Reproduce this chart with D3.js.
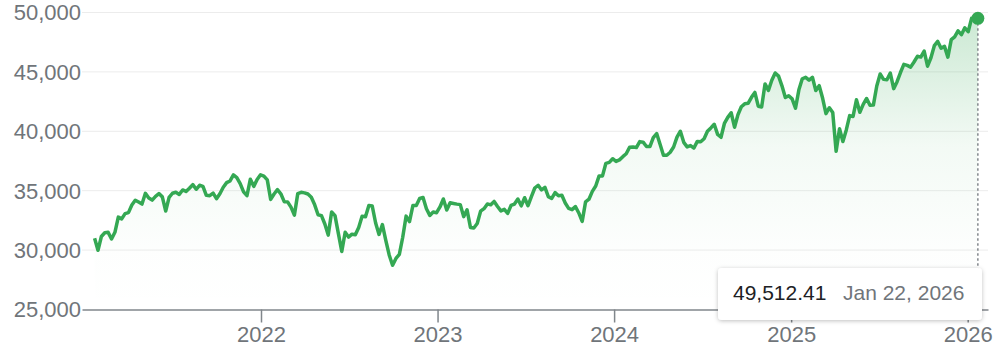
<!DOCTYPE html>
<html lang="en">
<head>
<meta charset="UTF-8">
<title>Dow Jones 5Y</title>
<script src="https://d3js.org/d3.v7.min.js"></script>
<style>
  body { margin: 0; background: #fff; font-family: Arial, "Liberation Sans", sans-serif; }
  svg { display: block; }
  .ylab, .xlab { fill: #70757a; font-size: 22px; }
</style>
</head>
<body>
<svg width="1000" height="351"></svg>
<script>
// weekly closes, first week ending 2021-01-22
const firstWeek = "2021-01-22";
const closes2021 = [30997, 29982, 31148, 31458, 31494, 30932, 31496, 32779, 32628, 33073,
  33153, 33801, 34200, 34043, 33875, 34778, 34382, 34208, 34529, 34756, 34480, 33290, 34433,
  34786, 34870, 34688, 35062, 34935, 35208, 35515, 35120, 35455, 35369, 34608, 34584, 34798,
  34326, 34746, 35295, 35677, 35820, 36328, 36100, 35602, 34899, 34580, 35971, 35365, 35950, 36338];
const closes2022 = [36231, 35912, 34265, 34725, 35089, 34738, 34079, 34059, 33614, 32945,
  34754, 34861, 34818, 34721, 34451, 33811, 32977, 32899, 32197, 31262, 33213, 32900, 31393,
  29888, 31501, 31097, 31338, 31288, 31899, 32845, 32803, 33761, 33707, 32283, 31318, 32151,
  30822, 29590, 28726, 29297, 29635, 31082, 32861, 32403, 33748, 33746, 34347, 34430, 33476,
  32920, 33203, 33147];
const closes2023 = [33631, 34303, 33375, 33978, 33926, 33870, 33827, 32817, 33391, 31910,
  31862, 32238, 33274, 33485, 33886, 33809, 34098, 33674, 33300, 33427, 33093, 33762, 33877,
  34299, 33727, 34408, 33734, 34509, 35228, 35459, 35066, 35281, 34500, 34346, 34838, 34577,
  34618, 33964, 33507, 33407, 33670, 33127, 32418, 34061, 34283, 34947, 35390, 36245, 36247,
  37305, 37385, 37690];
const closes2024 = [37466, 37593, 37863, 38109, 38654, 38671, 38628, 39131, 39087, 38722,
  38715, 39475, 39807, 38904, 37983, 37986, 38240, 38676, 39513, 40004, 39070, 38686, 38799,
  38589, 39150, 39119, 39376, 40001, 40287, 40589, 39737, 39497, 40659, 41175, 41563, 40345,
  41394, 42063, 42313, 42353, 42864, 43276, 42114, 42052, 43989, 43445, 44297, 44911, 44643,
  43828, 42840, 42992];
const closes2025 = [42732, 41938, 43488, 44424, 44545, 44303, 44546, 43428, 43841, 42801,
  41488, 41985, 41583, 38315, 40212, 39142, 40114, 41317, 41249, 42655, 41603, 42270, 42763,
  42197, 42207, 43819, 44828, 44371, 44342, 44902, 43589, 44176, 44946, 45631, 45545, 45401,
  45834, 46315, 46247, 46758, 45479, 46191, 47207, 47563, 46987, 47147, 46245, 47716, 47955,
  48458, 48135, 48711];
const closes2026 = [48382, 49504, 49359];
const lastDate = "2026-01-22";
const lastValue = 49512.41;

const yTicks = [25000, 30000, 35000, 40000, 45000, 50000];
const xTickYears = [2022, 2023, 2024, 2025, 2026];

const parse = d3.timeParse("%Y-%m-%d");
const weekly = [].concat(closes2021, closes2022, closes2023, closes2024, closes2025, closes2026);
const data = weekly.map((v, i) => ({ date: d3.timeDay.offset(parse(firstWeek), i * 7), value: v }));
data.push({ date: parse(lastDate), value: lastValue });

const svg = d3.select("svg");
const plotLeft = 82, plotRight = 988, plotTop = 12.5, plotBottom = 309.5;

// x: year ticks placed where the reference has them
const x = d3.scaleTime()
  .domain([new Date(2022, 0, 1), new Date(2026, 0, 1)])
  .range([261, 967.7]);
x.domain([x.invert(plotLeft), x.invert(plotRight)]).range([plotLeft, plotRight]);

const y = d3.scaleLinear().domain([25000, 50000]).range([plotBottom, plotTop]);

// gradient fill
const defs = svg.append("defs");
const grad = defs.append("linearGradient")
  .attr("id", "fill").attr("gradientUnits", "userSpaceOnUse")
  .attr("x1", 0).attr("x2", 0).attr("y1", plotTop).attr("y2", plotBottom);
grad.append("stop").attr("offset", 0).attr("stop-color", "#34a853").attr("stop-opacity", 0.26);
grad.append("stop").attr("offset", 0.45).attr("stop-color", "#34a853").attr("stop-opacity", 0.06);
grad.append("stop").attr("offset", 0.8).attr("stop-color", "#34a853").attr("stop-opacity", 0.01);
grad.append("stop").attr("offset", 1).attr("stop-color", "#34a853").attr("stop-opacity", 0);

const shadow = defs.append("filter").attr("id", "shadow")
  .attr("x", "-10%").attr("y", "-30%").attr("width", "120%").attr("height", "170%");
shadow.append("feDropShadow").attr("dx", 0).attr("dy", 1).attr("stdDeviation", 2)
  .attr("flood-color", "#000").attr("flood-opacity", 0.25);

// gridlines + y labels
svg.append("g").selectAll("line")
  .data(yTicks.filter(t => t > 25000))
  .join("line")
  .attr("x1", plotLeft).attr("x2", plotRight)
  .attr("y1", d => y(d)).attr("y2", d => y(d))
  .attr("stroke", "#ececec").attr("stroke-width", 1);

svg.append("g").selectAll("text")
  .data(yTicks)
  .join("text")
  .attr("class", "ylab")
  .attr("x", plotLeft - 1)
  .attr("y", d => y(d))
  .attr("dy", "0.36em")
  .attr("text-anchor", "end")
  .text(d => d3.format(",")(d));

// area
svg.append("path")
  .datum(data)
  .attr("fill", "url(#fill)")
  .attr("d", d3.area().x(d => x(d.date)).y0(plotBottom).y1(d => y(d.value)));

// x axis
const xAxis = svg.append("g")
  .attr("transform", `translate(0,${plotBottom})`)
  .call(d3.axisBottom(x)
    .tickValues(xTickYears.map(yr => new Date(yr, 0, 1)))
    .tickFormat(d3.timeFormat("%Y"))
    .tickSizeOuter(0).tickSizeInner(13).tickPadding(4));
xAxis.attr("font-family", null).attr("font-size", null);
xAxis.select(".domain").attr("stroke", "#80868b").attr("stroke-width", 1.5);
xAxis.selectAll(".tick line").attr("stroke", "#80868b").attr("stroke-width", 1.5);
xAxis.selectAll(".tick text").attr("class", "xlab").attr("fill", null);

// line
svg.append("path")
  .datum(data)
  .attr("fill", "none")
  .attr("stroke", "#34a853")
  .attr("stroke-width", 3.5)
  .attr("stroke-linejoin", "round")
  .attr("d", d3.line().x(d => x(d.date)).y(d => y(d.value)));

// hover marker
const last = data[data.length - 1];
svg.append("line")
  .attr("x1", x(last.date)).attr("x2", x(last.date))
  .attr("y1", y(last.value)).attr("y2", plotBottom)
  .attr("stroke", "#80868b").attr("stroke-width", 1.5).attr("stroke-dasharray", "2.5,2.5");
svg.append("circle")
  .attr("cx", x(last.date)).attr("cy", y(last.value)).attr("r", 6.5)
  .attr("fill", "#34a853");

// tooltip
const tip = svg.append("g").attr("transform", "translate(718,268)");
tip.append("rect")
  .attr("width", 264).attr("height", 52).attr("rx", 4)
  .attr("fill", "#fff").attr("filter", "url(#shadow)");
tip.append("text")
  .attr("x", 15).attr("y", 32)
  .attr("font-size", 21).attr("fill", "#202124")
  .text(d3.format(",.2f")(last.value));
tip.append("text")
  .attr("x", 125).attr("y", 32)
  .attr("font-size", 21).attr("fill", "#70757a")
  .text(d3.timeFormat("%b %-d, %Y")(last.date));
</script>
</body>
</html>
